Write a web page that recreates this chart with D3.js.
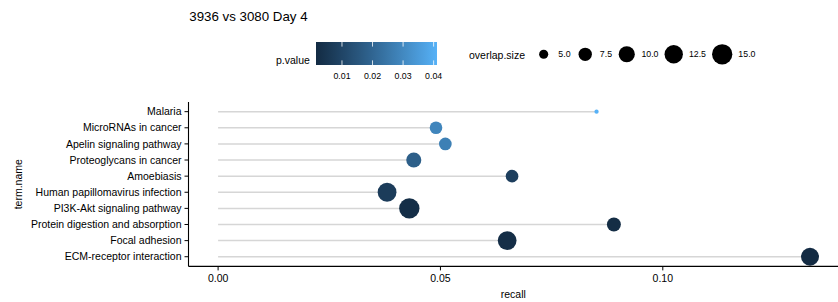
<!DOCTYPE html>
<html>
<head>
<meta charset="utf-8">
<script src="https://cdn.jsdelivr.net/npm/d3@7"></script>
<style>
  body { margin: 0; background: #fff; }
  text { font-family: "Liberation Sans", Arial, sans-serif; fill: #000; }
</style>
</head>
<body>
<div id="chart"></div>
<script>
// datos (de arriba hacia abajo)
const terms = ["Malaria", "MicroRNAs in cancer", "Apelin signaling pathway", "Proteoglycans in cancer",
  "Amoebiasis", "Human papillomavirus infection", "PI3K-Akt signaling pathway",
  "Protein digestion and absorption", "Focal adhesion", "ECM-receptor interaction"];
const recall = [0.0851, 0.0490, 0.0511, 0.0440, 0.0661, 0.0380, 0.0430, 0.0890, 0.0650, 0.1331];
const overlapSize = [4, 7, 7, 9, 7, 13, 15, 8, 13, 12];
const pValue = [0.0411, 0.029, 0.0275, 0.018, 0.0079, 0.0072, 0.0024, 0.0021, 0.0025, 0.0015];

const xTicks = [0, 0.05, 0.10];
const pTicks = [0.01, 0.02, 0.03, 0.04];
const sizeBreaks = [5, 7.5, 10, 12.5, 15];
const title = "3936 vs 3080 Day 4";

const width = 838, height = 302;
const panel = { left: 188.5, right: 839.6, top: 102, bottom: 266.4 };

const svg = d3.select('#chart').append('svg')
  .attr('width', width)
  .attr('height', height);

svg.append('rect').attr('width', width).attr('height', height).attr('fill', '#fff');

// escalas
const xMax = d3.max(recall);
const x = d3.scaleLinear()
  .domain([-0.05 * xMax, 1.05 * xMax])
  .range([panel.left, panel.right]);

const y = d3.scalePoint()
  .domain(terms)
  .range([panel.top, panel.bottom])
  .padding(0.6);

const pExtent = d3.extent(pValue);
const color = d3.scaleLinear()
  .domain(pExtent)
  .range(['#132B43', '#56B1F7'])
  .interpolate(d3.interpolateLab);

// tamaño tipo ggplot (área)
const sExtent = d3.extent(overlapSize);
const sNorm = d3.scaleLinear().domain(sExtent).range([0, 1]).clamp(true);
const radius = v => 1.128 * (2.845 * (1 + 5 * Math.sqrt(sNorm(v))) + 0.945) / 2;

const rows = terms.map((t, i) => ({ term: t, recall: recall[i], size: overlapSize[i], p: pValue[i] }));

// segmentos
svg.append('g')
  .selectAll('line')
  .data(rows)
  .enter().append('line')
  .attr('x1', x(0))
  .attr('x2', d => x(d.recall))
  .attr('y1', d => y(d.term))
  .attr('y2', d => y(d.term))
  .attr('stroke', '#d6d6d6')
  .attr('stroke-width', 1.5);

// puntos
svg.append('g')
  .selectAll('circle')
  .data(rows)
  .enter().append('circle')
  .attr('cx', d => x(d.recall))
  .attr('cy', d => y(d.term))
  .attr('r', d => radius(d.size))
  .attr('fill', d => color(d.p));

// ejes
const axisColor = '#000';
svg.append('line')
  .attr('x1', panel.left).attr('x2', panel.left)
  .attr('y1', panel.top).attr('y2', panel.bottom)
  .attr('stroke', axisColor).attr('stroke-width', 1.1);
svg.append('line')
  .attr('x1', panel.left).attr('x2', width)
  .attr('y1', panel.bottom).attr('y2', panel.bottom)
  .attr('stroke', axisColor).attr('stroke-width', 1.1);

const yAxis = svg.append('g');
terms.forEach(t => {
  yAxis.append('line')
    .attr('x1', panel.left - 4).attr('x2', panel.left)
    .attr('y1', y(t)).attr('y2', y(t))
    .attr('stroke', axisColor).attr('stroke-width', 1);
  yAxis.append('text')
    .attr('x', panel.left - 7)
    .attr('y', y(t))
    .attr('dy', '0.35em')
    .attr('text-anchor', 'end')
    .attr('font-size', '10.5px')
    .text(t);
});

const xAxis = svg.append('g');
xTicks.forEach(v => {
  xAxis.append('line')
    .attr('x1', x(v)).attr('x2', x(v))
    .attr('y1', panel.bottom).attr('y2', panel.bottom + 4)
    .attr('stroke', axisColor).attr('stroke-width', 1);
  xAxis.append('text')
    .attr('x', x(v))
    .attr('y', 281.8)
    .attr('text-anchor', 'middle')
    .attr('font-size', '10.5px')
    .text(d3.format('.2f')(v));
});

svg.append('text')
  .attr('x', (panel.left + width) / 2)
  .attr('y', 297.5)
  .attr('text-anchor', 'middle')
  .attr('font-size', '10.5px')
  .text('recall');

svg.append('text')
  .attr('transform', `translate(22,${(panel.top + panel.bottom) / 2}) rotate(-90)`)
  .attr('text-anchor', 'middle')
  .attr('font-size', '10.5px')
  .text('term.name');

// título
svg.append('text')
  .attr('x', 189.3)
  .attr('y', 20.8)
  .attr('font-size', '13.3px')
  .text(title);

// leyenda p.value (barra de color)
const bar = { x: 316, y: 42, w: 121, h: 23 };
const defs = svg.append('defs');
const grad = defs.append('linearGradient').attr('id', 'pgrad');
d3.range(0, 1.0001, 0.05).forEach(f => {
  grad.append('stop')
    .attr('offset', f)
    .attr('stop-color', color(pExtent[0] + f * (pExtent[1] - pExtent[0])));
});
svg.append('rect')
  .attr('x', bar.x).attr('y', bar.y)
  .attr('width', bar.w).attr('height', bar.h)
  .attr('fill', 'url(#pgrad)');

const pBar = d3.scaleLinear().domain(pExtent).range([bar.x, bar.x + bar.w]);
pTicks.forEach(v => {
  [[bar.y, bar.y + bar.h / 5], [bar.y + bar.h * 4 / 5, bar.y + bar.h]].forEach(([a, b]) => {
    svg.append('line')
      .attr('x1', pBar(v)).attr('x2', pBar(v))
      .attr('y1', a).attr('y2', b)
      .attr('stroke', '#fff').attr('stroke-width', 0.8);
  });
  svg.append('text')
    .attr('x', pBar(v))
    .attr('y', 78.9)
    .attr('text-anchor', 'middle')
    .attr('font-size', '8.8px')
    .text(d3.format('.2f')(v));
});
svg.append('text')
  .attr('x', 276)
  .attr('y', 64)
  .attr('font-size', '10.5px')
  .text('p.value');

// leyenda overlap.size
const sizeTitle = svg.append('text')
  .attr('x', 469)
  .attr('y', 58.7)
  .attr('font-size', '10.5px')
  .text('overlap.size');
let cursor = 469 + sizeTitle.node().getComputedTextLength() + 10;
const keyY = 54.3;
sizeBreaks.forEach(v => {
  const r = radius(v);
  const kw = Math.max(17.3, 2 * r);
  svg.append('circle')
    .attr('cx', cursor + kw / 2)
    .attr('cy', keyY)
    .attr('r', r)
    .attr('fill', '#000');
  cursor += kw + 6;
  const lbl = svg.append('text')
    .attr('x', cursor)
    .attr('y', keyY + 3.1)
    .attr('font-size', '8.8px')
    .text(d3.format('.1f')(v));
  cursor += lbl.node().getComputedTextLength() + 6;
});
</script>
</body>
</html>
